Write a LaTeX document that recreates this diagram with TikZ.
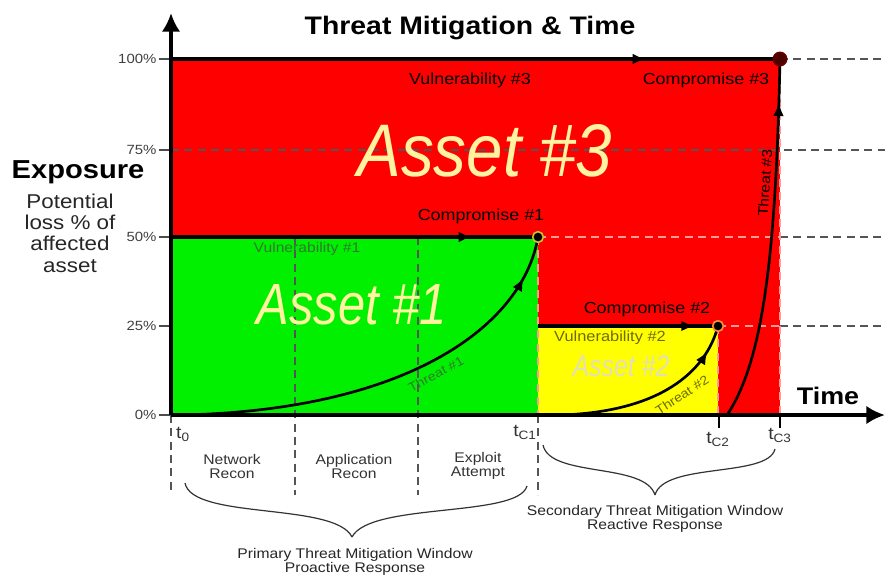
\documentclass[tikz,border=0pt]{standalone}
\usepackage{fontspec}
\setmainfont{Liberation Sans}[FakeStretch=1.12]
\usepackage{graphicx}
\usetikzlibrary{arrows.meta,decorations.markings}
\newdimen\pxu \pxu=0.75pt
\newcommand\fitto[3]{\resizebox{#1\pxu}{#2\pxu}{#3}}
\definecolor{cred}{HTML}{FF0000}
\definecolor{cgreen}{HTML}{00F000}
\definecolor{cyellow}{HTML}{FFFF00}
\definecolor{assettxt}{HTML}{FFF3A0}
\definecolor{asset2txt}{HTML}{E2E0B8}
\definecolor{dgreen}{HTML}{2F7A2F}
\definecolor{olive}{HTML}{6E6A10}
\definecolor{dashgray}{HTML}{555555}
\definecolor{lightdash}{HTML}{FF9A9A}
\begin{document}
\begin{tikzpicture}[x=0.75pt,y=-0.75pt,
  fs/.style={font=\fontsize{#1}{#1}\selectfont},
  fsb/.style={font=\fontsize{#1}{#1}\selectfont\bfseries},
  pct/.style={fs=10, text=black!75, anchor=east, inner sep=1pt},
  guide/.style={dash pattern=on 6pt off 4pt, line width=0.9pt, dashgray},
  pinkguide/.style={dash pattern=on 6pt off 4pt, line width=0.9pt, lightdash},
  heavy/.style={line width=2.4pt, black},
  threat/.style={line width=2pt, black},
  midarrow/.style={postaction={decorate},decoration={markings,
     mark=at position #1 with {\arrow{Latex[length=10pt,width=8pt]}}}},
  axis/.style={line width=3pt, -{Latex[length=14pt,width=14pt]}},
  dotc/.style={circle, fill=black, minimum size=8pt, inner sep=0pt, line width=1.2pt},
  brace/.style={line width=0.9pt, black!80},
]
\useasboundingbox (0,0) rectangle (885,579);

% key coordinates
\coordinate (O) at (171,415);
\coordinate (Ytop) at (171,13);
\coordinate (Xend) at (885,415);
\coordinate (v3s) at (171,59);
\coordinate (c3) at (780,59);
\coordinate (v1s) at (171,237);
\coordinate (c1) at (538,237);
\coordinate (v2s) at (538,326);
\coordinate (c2) at (718,326);
\coordinate (t1s) at (176,415);
\coordinate (t2s) at (560,415);
\coordinate (t3s) at (727,415);

% regions
\fill[cred] (171,59) rectangle (780,415);
\fill[cgreen] (171,237) rectangle (538,415);
\fill[cyellow] (538,326) rectangle (718,415);

% horizontal guides
\draw[guide] (171,150) -- (885,150);
\draw[guide] (780,59) -- (885,59);
\draw[pinkguide] (538,237) -- (780,237);
\draw[guide] (780,237) -- (885,237);
\draw[pinkguide] (718,326) -- (780,326);
\draw[guide] (780,326) -- (885,326);
% vertical guides
\draw[guide] (295,237) -- (295,495);
\draw[guide] (418,237) -- (418,495);
\draw[guide] (538,415) -- (538,495);
\draw[guide] (171,415) -- (171,490);
\draw[pinkguide] (538,237) -- (538,415);
\draw[pinkguide] (718,326) -- (718,415);
\draw[pinkguide] (780,59) -- (780,415);

% ticks
\foreach \yy/\lab in {59/100\%,150/75\%,237/50\%,326/25\%,415/0\%}{
  \draw[line width=1pt, black!70] (159,\yy) -- (171,\yy);
  \node[pct] at (158,\yy) {\lab};
}
\draw[line width=1.2pt] (719,415) -- (719,428);
\draw[line width=1.2pt] (780,415) -- (780,428);

% heavy vulnerability lines
\draw[heavy, midarrow=0.78] (v3s) -- (c3);
\draw[heavy, midarrow=0.82] (v1s) -- (c1);
\draw[heavy, midarrow=0.87] (v2s) -- (c2);

% threat curves
\draw[threat, midarrow=0.9] (t1s) .. controls (400,412) and (522,330) .. (c1);
\draw[threat, midarrow=0.86] (t2s) .. controls (660,412) and (706,372) .. (c2);
\draw[threat, midarrow=0.88] (t3s) .. controls (764,360) and (776,250) .. (c3);

% axes
\draw[axis] (O) -- (Ytop);
\draw[axis] (O) -- (Xend);

% compromise dots
\node[dotc, draw=yellow!60!olive] (d1) at (c1) {};
\node[dotc, draw=orange!70!pink] (d2) at (c2) {};
\node[dotc, fill=black!70!red, draw=black!60!red, minimum size=10pt] (d3) at (c3) {};

% titles
\node[fsb=19] (title) at (470,28) {Threat Mitigation \& Time};
\node[fsb=19.5] (expo) at (78,172) {Exposure};
\node[fs=15, align=center, text=black!85] (pot) at (70,233) {Potential\\[1pt]loss \% of\\[1pt]affected\\[1pt]asset};
\node[fsb=18] (time) at (828,396) {Time};

% region labels
\node[fs=12] (vul3) at (470,80) {Vulnerability \#3};
\node[fs=12] (com3) at (706,80) {Compromise \#3};
\node[fs=12] (com1) at (481,216) {Compromise \#1};
\node[fs=10.5, text=dgreen] (vul1) at (307,249) {Vulnerability \#1};
\node[fs=12] (com2) at (647,309) {Compromise \#2};
\node[fs=11, text=olive] (vul2) at (610,338) {Vulnerability \#2};
\node[fs=9.5, text=dgreen, rotate=28, inner sep=1pt] (thr1) at (436,374) {Threat \#1};
\node[fs=9.5, text=olive, rotate=33, inner sep=1pt] (thr2) at (682,395) {Threat \#2};
\node[fs=10.5, rotate=86, inner sep=1pt] (thr3) at (765,183) {Threat \#3};

\node[text=assettxt, inner sep=0pt] (a3) at (485,151) {\fitto{255}{52}{\itshape Asset \#3}};
\node[text=assettxt, inner sep=0pt] (a1) at (352,305) {\fitto{190}{40}{\itshape Asset \#1}};
\node[text=asset2txt, inner sep=0pt] (a2) at (621,366) {\fitto{97}{21}{\itshape Asset \#2}};

% time labels
\node[fs=13, text=black!80] (tz) at (183,434) {t\textsubscript{0}};
\node[fs=13, text=black!80] (tc1) at (525,432) {t\textsubscript{C1}};
\node[fs=13, text=black!80] (tc2) at (718,439) {t\textsubscript{C2}};
\node[fs=13, text=black!80] (tc3) at (780,435) {t\textsubscript{C3}};

% phase labels
\node[fs=10.5, align=center, text=black!80] (nr) at (232,466) {Network\\Recon};
\node[fs=10.5, align=center, text=black!80] (ar) at (354,466) {Application\\Recon};
\node[fs=10.5, align=center, text=black!80] (ea) at (478,466) {Exploit\\Attempt};

% braces
\coordinate (b1l) at (185,483);
\coordinate (b1t) at (352,537);
\coordinate (b1r) at (527,486);
\draw[brace] (b1l) .. controls (192,520) and (335,502) .. (b1t);
\draw[brace] (b1t) .. controls (370,502) and (518,518) .. (b1r);
\coordinate (b2l) at (543,445);
\coordinate (b2t) at (655,495);
\coordinate (b2r) at (775,449);
\draw[brace] (b2l) .. controls (550,478) and (645,462) .. (b2t);
\draw[brace] (b2t) .. controls (664,462) and (768,478) .. (b2r);

\node[fs=10.5, align=center, text=black!85] (prim) at (355,562) {Primary Threat Mitigation Window\\Proactive Response};
\node[fs=10.5, align=center, text=black!85] (sec) at (655,519) {Secondary Threat Mitigation Window\\Reactive Response};
\end{tikzpicture}
\end{document}
